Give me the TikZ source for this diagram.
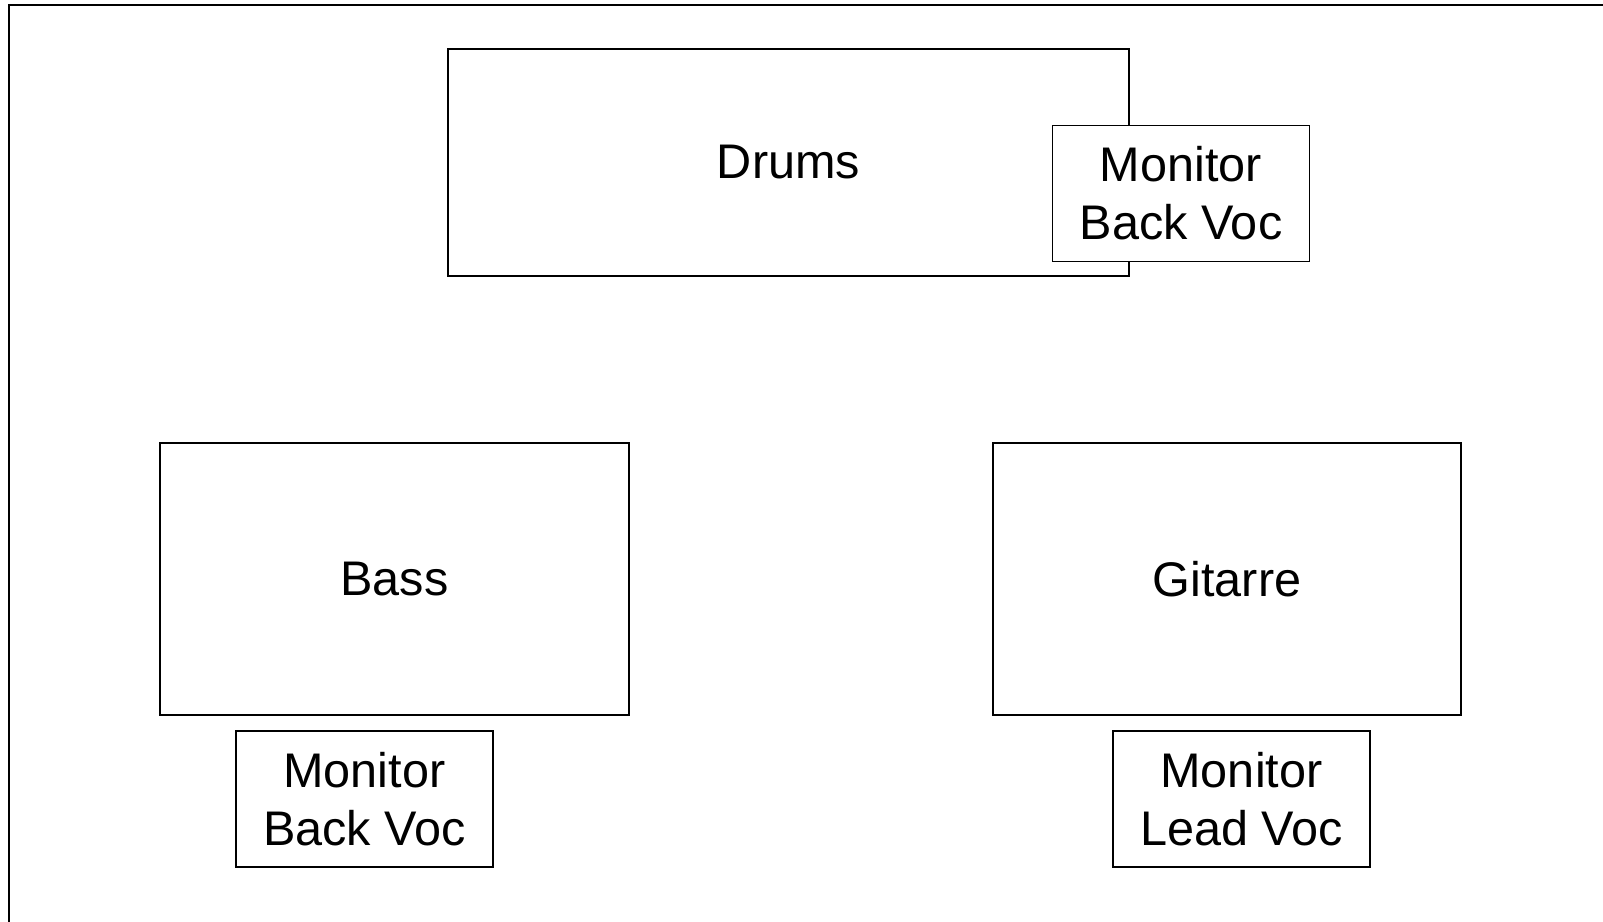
\documentclass[tikz,border=0pt]{standalone}
\usepackage{fontspec}
\setmainfont{Liberation Sans}
\usetikzlibrary{positioning}

\begin{document}
\begin{tikzpicture}[x=0.5pt, y=-0.5pt, every node/.style={font=\fontsize{24.3pt}{29pt}\selectfont}]
        \tikzstyle{area}=[draw, line width=0.75pt, fill=white, align=center, inner sep=0pt]
        \tikzstyle{monitor}=[area, minimum width=128.5pt, minimum height=68pt]
        \useasboundingbox (0,0) rectangle (1603,922);
        % stage frame
        \draw[line width=0.9pt] (9,922) -- (9,5) -- (1603,5);
        \node[area, minimum width=340.5pt, minimum height=113.5pt] (drums) at (788.5,162.5) {Drums};
        \node[monitor] (mondrums) at (1181,193.5) {Monitor\\Back Voc};
        \node[area, minimum width=234.5pt, minimum height=136pt] (bass) at (394.5,579) {Bass};
        \node[area, minimum width=234pt, minimum height=136pt] (git) at (1227,579) {Gitarre};
        \node[monitor] (monbass) at (364.5,799) {Monitor\\Back Voc};
        \node[monitor] (mongit) at (1241.5,799) {Monitor\\Lead Voc};
      \end{tikzpicture}
\end{document}
